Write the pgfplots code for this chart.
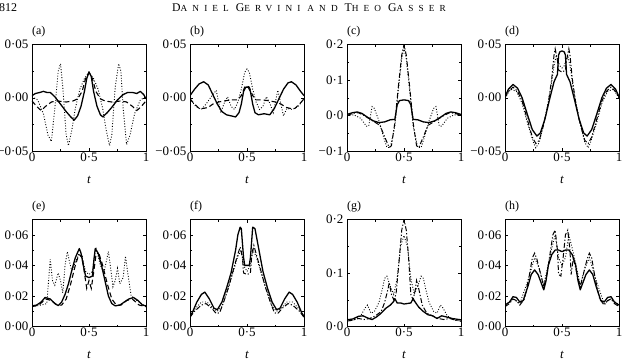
\documentclass[border=0pt]{standalone}
\usepackage{pgfplots}
\pgfplotsset{compat=1.18}
\usepackage{fontspec}
\setmainfont{Liberation Serif}
\newfontfamily\hdrfont[LetterSpace=55]{Liberation Serif}
\newcommand{\hsc}[2]{{\fontsize{11.8}{11.8}\selectfont #1}{\fontsize{9.3}{9.3}\selectfont #2}}
\tikzset{
 sol/.style={black, line width=1.3pt, line join=round},
 dsh/.style={black, line width=1.1pt, dash pattern=on 5pt off 3pt},
 dd/.style={black, line width=1pt, dash pattern=on 5pt off 2pt on 1.2pt off 2pt},
 dot/.style={black, line width=0.9pt, dash pattern=on 0.9pt off 1.8pt},
}
\pgfplotsset{
 panel/.style={
  scale only axis, width=114bp, height=106.5bp, anchor=north west,
  xmin=0, xmax=1, xtick={0,0.5,1}, xticklabels={0,0·5,1},
  minor x tick num=1, minor y tick num=1, scaled y ticks=false, scaled x ticks=false,
  tick align=inside, major tick length=3bp, minor tick length=2bp,
  axis line style={line width=0.7pt}, every tick/.style={black, line width=0.5pt},
  tick label style={font=\fontsize{13}{13}\selectfont},
  xticklabel style={inner sep=0pt, yshift=-1.5bp},
  yticklabel style={inner sep=0pt, xshift=-3.5bp},
  xlabel={\textit{t}},
  xlabel style={font=\fontsize{13}{13}\selectfont, at={(axis description cs:0.5,0)}, anchor=base, yshift=-32bp, inner sep=0pt},
  clip mode=individual,
 },
 yA/.style={ymin=-0.05, ymax=0.05, ytick={-0.05,0,0.05}, yticklabels={−0·05,0·00,0·05}},
 yC/.style={ymin=-0.1, ymax=0.2, ytick={-0.1,0,0.1,0.2}, yticklabels={−0·1,0·0,0·1,0·2}},
 yE/.style={ymin=0, ymax=0.07, ytick={0,0.02,0.04,0.06}, yticklabels={0·00,0·02,0·04,0·06}},
 yG/.style={ymin=0, ymax=0.2, ytick={0,0.1,0.2}, yticklabels={0·0,0·1,0·2}},
}
\newcommand{\plab}[1]{\node[anchor=base west, inner sep=0pt, font=\fontsize{12}{12}\selectfont] at ([yshift=10bp]rel axis cs:0,1) {#1};}
\begin{document}
\begin{tikzpicture}
\path[use as bounding box] (0,0) rectangle (623bp,-360bp);
% header
\node[anchor=base west, inner sep=0pt, font=\fontsize{12}{12}\selectfont] at (-1bp,-11bp) {812};
\node[anchor=base, inner sep=0pt] at (309bp,-11bp) {\hdrfont\hsc{D}{ANIEL}\hspace{7pt}\hsc{G}{ERVINI}\hspace{7pt}{\fontsize{9.3}{9.3}\selectfont AND}\hspace{7pt}\hsc{T}{HEO}\hspace{7pt}\hsc{G}{ASSER}};

% (a)
\begin{axis}[panel, yA, at={(32bp,-44.5bp)}]
\plab{(a)}
\addplot[sol] coordinates {(0,0.002)(0.03,0.004)(0.07,0.005)(0.1,0.006)(0.13,0.005)(0.16,0.005)(0.2,0.001)(0.25,-0.006)(0.3,-0.013)(0.34,-0.018)(0.37,-0.021)(0.4,-0.017)(0.43,-0.008)(0.46,0.006)(0.48,0.018)(0.5,0.024)(0.52,0.02)(0.54,0.006)(0.57,-0.008)(0.6,-0.016)(0.62,-0.018)(0.66,-0.014)(0.7,-0.009)(0.75,-0.002)(0.8,0.003)(0.84,0.005)(0.88,0.005)(0.92,0.004)(0.95,0.006)(0.98,0.003)(1,-0.001)};
\addplot[dsh] coordinates {(0,-0.003)(0.04,-0.008)(0.08,-0.012)(0.12,-0.008)(0.17,-0.004)(0.22,-0.003)(0.3,-0.004)(0.36,-0.003)(0.4,-0.001)(0.44,0.006)(0.47,0.018)(0.5,0.024)(0.53,0.018)(0.56,0.006)(0.6,-0.001)(0.64,-0.003)(0.7,-0.004)(0.78,-0.003)(0.83,-0.004)(0.88,-0.008)(0.92,-0.012)(0.96,-0.008)(1,-0.003)};
\addplot[dot] coordinates {(0,0.001)(0.05,-0.002)(0.1,-0.015)(0.14,-0.035)(0.17,-0.041)(0.2,-0.01)(0.23,0.025)(0.25,0.032)(0.27,0.01)(0.3,-0.035)(0.32,-0.045)(0.35,-0.03)(0.38,-0.01)(0.42,0.008)(0.46,0.018)(0.5,0.024)(0.54,0.018)(0.58,0.008)(0.62,-0.01)(0.65,-0.03)(0.68,-0.045)(0.7,-0.035)(0.73,0.01)(0.76,0.032)(0.78,0.025)(0.8,-0.01)(0.83,-0.044)(0.86,-0.035)(0.9,-0.015)(0.95,-0.002)(1,0.001)};
\end{axis}

% (b)
\begin{axis}[panel, yA, at={(190bp,-44.5bp)}]
\plab{(b)}
\addplot[sol] coordinates {(0,0.002)(0.04,0.008)(0.08,0.013)(0.12,0.015)(0.16,0.012)(0.2,0.003)(0.24,-0.006)(0.28,-0.013)(0.32,-0.016)(0.36,-0.017)(0.4,-0.018)(0.43,-0.014)(0.45,-0.006)(0.47,0.006)(0.49,0.010)(0.51,0.010)(0.53,0.006)(0.55,-0.006)(0.57,-0.014)(0.6,-0.016)(0.65,-0.015)(0.7,-0.016)(0.74,-0.010)(0.78,-0.001)(0.82,0.008)(0.86,0.014)(0.89,0.015)(0.93,0.012)(0.97,0.006)(1,0.002)};
\addplot[dsh] coordinates {(0,-0.001)(0.04,-0.006)(0.08,-0.010)(0.12,-0.010)(0.16,-0.009)(0.2,-0.006)(0.25,-0.004)(0.3,-0.003)(0.36,-0.002)(0.42,-0.002)(0.45,0.002)(0.48,0.010)(0.5,0.011)(0.52,0.010)(0.55,0.002)(0.58,-0.002)(0.64,-0.002)(0.7,-0.003)(0.75,-0.004)(0.8,-0.006)(0.84,-0.009)(0.88,-0.010)(0.92,-0.010)(0.96,-0.006)(1,-0.001)};
\addplot[dot] coordinates {(0,-0.001)(0.05,-0.008)(0.1,-0.011)(0.14,-0.006)(0.18,0.0)(0.23,0.007)(0.27,-0.014)(0.3,-0.005)(0.33,0.001)(0.36,-0.008)(0.39,-0.011)(0.42,-0.004)(0.45,0.008)(0.48,0.024)(0.5,0.027)(0.52,0.024)(0.55,0.008)(0.58,-0.004)(0.61,-0.011)(0.64,-0.008)(0.67,0.001)(0.7,-0.005)(0.73,-0.014)(0.77,0.007)(0.82,-0.017)(0.85,-0.010)(0.9,-0.011)(0.95,-0.008)(1,-0.001)};
\end{axis}

% (c)
\begin{axis}[panel, yC, at={(347bp,-44.5bp)}]
\plab{(c)}
\addplot[sol] coordinates {(0,0.003)(0.05,0.008)(0.09,0.010)(0.13,0.006)(0.18,-0.005)(0.23,-0.015)(0.28,-0.02)(0.33,-0.018)(0.38,-0.012)(0.42,-0.011)(0.44,0.03)(0.46,0.042)(0.5,0.044)(0.54,0.042)(0.56,0.03)(0.58,-0.011)(0.62,-0.012)(0.67,-0.018)(0.72,-0.02)(0.77,-0.015)(0.82,-0.005)(0.87,0.006)(0.91,0.010)(0.95,0.008)(1,0.003)};
\addplot[dd] coordinates {(0,0.0)(0.05,0.006)(0.1,0.008)(0.15,0.0)(0.2,-0.01)(0.25,-0.02)(0.29,-0.028)(0.33,-0.06)(0.37,-0.09)(0.39,-0.085)(0.42,-0.02)(0.45,0.08)(0.48,0.17)(0.5,0.2)(0.52,0.17)(0.55,0.08)(0.58,-0.02)(0.61,-0.085)(0.63,-0.09)(0.67,-0.06)(0.71,-0.028)(0.75,-0.02)(0.8,-0.01)(0.85,0.0)(0.9,0.008)(0.95,0.006)(1,0.0)};
\addplot[dot] coordinates {(0,0.0)(0.06,0.002)(0.12,-0.008)(0.17,-0.03)(0.19,-0.03)(0.22,0.025)(0.24,0.02)(0.28,-0.015)(0.32,-0.06)(0.35,-0.09)(0.38,-0.09)(0.42,-0.03)(0.45,0.07)(0.48,0.16)(0.5,0.19)(0.52,0.16)(0.55,0.07)(0.58,-0.03)(0.62,-0.09)(0.65,-0.09)(0.68,-0.06)(0.72,-0.015)(0.76,0.02)(0.78,0.025)(0.81,-0.03)(0.83,-0.03)(0.88,-0.008)(0.94,0.002)(1,0.0)};
\end{axis}

% (d)
\begin{axis}[panel, yA, at={(505bp,-44.5bp)}]
\plab{(d)}
\addplot[sol] coordinates {(0,0.001)(0.03,0.008)(0.07,0.0125)(0.11,0.009)(0.15,0.0)(0.2,-0.017)(0.24,-0.030)(0.28,-0.036)(0.31,-0.033)(0.35,-0.02)(0.39,-0.002)(0.43,0.015)(0.46,0.022)(0.47,0.04)(0.48,0.043)(0.5,0.044)(0.52,0.043)(0.53,0.04)(0.54,0.022)(0.57,0.015)(0.61,-0.002)(0.65,-0.02)(0.69,-0.033)(0.72,-0.036)(0.76,-0.030)(0.8,-0.017)(0.85,0.0)(0.89,0.009)(0.93,0.0125)(0.97,0.008)(1,0.001)};
\addplot[dd] coordinates {(0,0.0)(0.03,0.006)(0.07,0.010)(0.11,0.006)(0.15,-0.003)(0.2,-0.022)(0.24,-0.037)(0.27,-0.043)(0.3,-0.040)(0.34,-0.025)(0.38,-0.005)(0.41,0.018)(0.43,0.040)(0.44,0.046)(0.46,0.035)(0.47,0.026)(0.5,0.024)(0.53,0.026)(0.54,0.035)(0.56,0.046)(0.57,0.040)(0.59,0.018)(0.62,-0.005)(0.66,-0.025)(0.7,-0.040)(0.73,-0.043)(0.76,-0.037)(0.8,-0.022)(0.85,-0.003)(0.89,0.006)(0.93,0.010)(0.97,0.006)(1,0.0)};
\addplot[dot] coordinates {(0,0.0)(0.05,0.008)(0.1,0.006)(0.15,-0.005)(0.2,-0.025)(0.25,-0.042)(0.27,-0.047)(0.3,-0.042)(0.35,-0.02)(0.4,0.008)(0.43,0.030)(0.45,0.040)(0.48,0.030)(0.5,0.028)(0.52,0.030)(0.55,0.040)(0.57,0.030)(0.6,0.008)(0.65,-0.02)(0.7,-0.042)(0.73,-0.047)(0.75,-0.042)(0.8,-0.025)(0.85,-0.005)(0.9,0.006)(0.95,0.008)(1,0.0)};
\end{axis}

% (e)
\begin{axis}[panel, yE, height=107bp, at={(32bp,-219.5bp)}]
\plab{(e)}
\addplot[sol] coordinates {(0,0.0135)(0.04,0.014)(0.08,0.016)(0.115,0.019)(0.16,0.018)(0.2,0.015)(0.23,0.0137)(0.26,0.016)(0.29,0.021)(0.32,0.028)(0.35,0.037)(0.38,0.045)(0.415,0.051)(0.43,0.048)(0.45,0.040)(0.47,0.033)(0.5,0.032)(0.53,0.033)(0.545,0.045)(0.555,0.051)(0.58,0.048)(0.61,0.040)(0.64,0.030)(0.67,0.020)(0.7,0.015)(0.73,0.0135)(0.77,0.014)(0.81,0.016)(0.85,0.018)(0.89,0.019)(0.93,0.017)(0.97,0.014)(1,0.0135)};
\addplot[dsh] coordinates {(0,0.013)(0.06,0.014)(0.12,0.018)(0.17,0.017)(0.22,0.014)(0.26,0.014)(0.3,0.018)(0.34,0.028)(0.38,0.040)(0.41,0.047)(0.44,0.046)(0.46,0.035)(0.48,0.025)(0.5,0.030)(0.52,0.025)(0.54,0.035)(0.56,0.046)(0.59,0.047)(0.62,0.040)(0.66,0.028)(0.7,0.018)(0.74,0.014)(0.78,0.014)(0.83,0.017)(0.88,0.018)(0.94,0.014)(1,0.013)};
\addplot[dot] coordinates {(0,0.013)(0.08,0.014)(0.13,0.015)(0.16,0.044)(0.18,0.030)(0.2,0.027)(0.23,0.035)(0.25,0.030)(0.27,0.022)(0.29,0.040)(0.31,0.049)(0.33,0.042)(0.35,0.036)(0.38,0.042)(0.41,0.047)(0.44,0.045)(0.47,0.036)(0.5,0.034)(0.53,0.036)(0.56,0.052)(0.58,0.046)(0.6,0.040)(0.63,0.035)(0.67,0.049)(0.69,0.038)(0.71,0.026)(0.73,0.030)(0.75,0.038)(0.77,0.028)(0.8,0.032)(0.82,0.046)(0.84,0.035)(0.87,0.020)(0.92,0.017)(1,0.013)};
\end{axis}

% (f)
\begin{axis}[panel, yE, height=107bp, at={(190bp,-219.5bp)}]
\plab{(f)}
\addplot[sol] coordinates {(0,0.0065)(0.02,0.009)(0.06,0.016)(0.1,0.021)(0.13,0.0225)(0.17,0.018)(0.21,0.012)(0.24,0.011)(0.28,0.016)(0.32,0.025)(0.36,0.035)(0.4,0.050)(0.42,0.060)(0.44,0.065)(0.45,0.064)(0.47,0.045)(0.48,0.040)(0.52,0.040)(0.53,0.045)(0.55,0.065)(0.57,0.064)(0.6,0.052)(0.64,0.036)(0.68,0.025)(0.72,0.016)(0.76,0.011)(0.79,0.012)(0.83,0.018)(0.87,0.0225)(0.9,0.021)(0.94,0.016)(0.98,0.009)(1,0.0065)};
\addplot[dd] coordinates {(0,0.006)(0.04,0.010)(0.1,0.014)(0.14,0.015)(0.19,0.012)(0.23,0.0085)(0.26,0.009)(0.3,0.017)(0.34,0.026)(0.38,0.037)(0.41,0.045)(0.44,0.052)(0.46,0.045)(0.47,0.035)(0.5,0.034)(0.53,0.035)(0.54,0.045)(0.56,0.053)(0.59,0.045)(0.62,0.037)(0.66,0.026)(0.7,0.017)(0.74,0.009)(0.77,0.0085)(0.81,0.012)(0.86,0.015)(0.9,0.014)(0.96,0.010)(1,0.006)};
\addplot[dot] coordinates {(0,0.007)(0.05,0.012)(0.1,0.016)(0.15,0.016)(0.2,0.012)(0.24,0.010)(0.28,0.013)(0.33,0.024)(0.38,0.036)(0.42,0.046)(0.45,0.050)(0.47,0.040)(0.5,0.036)(0.53,0.040)(0.55,0.050)(0.58,0.046)(0.62,0.036)(0.67,0.024)(0.72,0.013)(0.76,0.010)(0.8,0.012)(0.85,0.016)(0.9,0.016)(0.95,0.012)(1,0.007)};
\end{axis}

% (g)
\begin{axis}[panel, yG, height=107bp, at={(347bp,-219.5bp)}]
\plab{(g)}
\addplot[sol] coordinates {(0,0.0125)(0.05,0.014)(0.1,0.019)(0.14,0.02)(0.18,0.016)(0.22,0.013)(0.26,0.018)(0.3,0.025)(0.34,0.034)(0.38,0.040)(0.41,0.047)(0.42,0.052)(0.44,0.044)(0.47,0.044)(0.5,0.042)(0.53,0.043)(0.56,0.044)(0.58,0.052)(0.6,0.045)(0.63,0.036)(0.67,0.028)(0.71,0.022)(0.75,0.020)(0.79,0.015)(0.83,0.020)(0.87,0.018)(0.92,0.015)(1,0.0125)};
\addplot[dd] coordinates {(0,0.01)(0.05,0.012)(0.1,0.015)(0.15,0.013)(0.2,0.015)(0.25,0.02)(0.3,0.028)(0.33,0.045)(0.36,0.07)(0.37,0.082)(0.39,0.06)(0.41,0.05)(0.43,0.06)(0.46,0.13)(0.48,0.18)(0.5,0.2)(0.52,0.18)(0.54,0.13)(0.56,0.06)(0.58,0.05)(0.6,0.07)(0.61,0.086)(0.63,0.07)(0.66,0.04)(0.7,0.025)(0.75,0.02)(0.8,0.015)(0.85,0.013)(0.9,0.015)(0.95,0.012)(1,0.01)};
\addplot[dot] coordinates {(0,0.01)(0.06,0.012)(0.12,0.02)(0.16,0.035)(0.18,0.04)(0.21,0.025)(0.24,0.028)(0.28,0.045)(0.31,0.07)(0.33,0.09)(0.35,0.094)(0.38,0.075)(0.41,0.06)(0.44,0.09)(0.47,0.15)(0.5,0.17)(0.53,0.15)(0.56,0.09)(0.59,0.06)(0.62,0.075)(0.65,0.094)(0.67,0.09)(0.69,0.07)(0.72,0.045)(0.76,0.028)(0.79,0.025)(0.82,0.04)(0.84,0.035)(0.88,0.02)(0.94,0.012)(1,0.01)};
\end{axis}

% (h)
\begin{axis}[panel, yE, height=107bp, at={(505bp,-219.5bp)}]
\plab{(h)}
\addplot[sol] coordinates {(0,0.014)(0.04,0.016)(0.07,0.0195)(0.1,0.019)(0.13,0.016)(0.16,0.017)(0.2,0.026)(0.23,0.034)(0.26,0.037)(0.29,0.034)(0.32,0.028)(0.34,0.024)(0.36,0.030)(0.38,0.040)(0.41,0.047)(0.44,0.050)(0.47,0.050)(0.5,0.049)(0.53,0.050)(0.56,0.050)(0.59,0.047)(0.62,0.040)(0.64,0.030)(0.66,0.024)(0.68,0.028)(0.71,0.034)(0.74,0.037)(0.77,0.034)(0.8,0.026)(0.84,0.017)(0.87,0.016)(0.9,0.019)(0.93,0.0195)(0.96,0.016)(1,0.014)};
\addplot[dd] coordinates {(0,0.013)(0.04,0.015)(0.07,0.018)(0.1,0.017)(0.13,0.014)(0.17,0.018)(0.21,0.032)(0.24,0.045)(0.26,0.048)(0.28,0.044)(0.31,0.035)(0.34,0.026)(0.37,0.035)(0.4,0.050)(0.42,0.06)(0.44,0.063)(0.46,0.05)(0.47,0.034)(0.49,0.033)(0.51,0.045)(0.53,0.06)(0.55,0.063)(0.57,0.05)(0.58,0.034)(0.6,0.045)(0.63,0.035)(0.66,0.026)(0.69,0.035)(0.72,0.044)(0.74,0.048)(0.76,0.045)(0.79,0.032)(0.83,0.018)(0.87,0.014)(0.9,0.017)(0.93,0.018)(0.96,0.015)(1,0.013)};
\addplot[dot] coordinates {(0,0.014)(0.07,0.018)(0.13,0.015)(0.2,0.03)(0.26,0.045)(0.3,0.038)(0.34,0.027)(0.4,0.048)(0.44,0.060)(0.47,0.045)(0.5,0.040)(0.53,0.045)(0.56,0.060)(0.6,0.048)(0.66,0.027)(0.7,0.038)(0.74,0.045)(0.8,0.03)(0.87,0.015)(0.93,0.018)(1,0.014)};
\end{axis}
\end{tikzpicture}
\end{document}
